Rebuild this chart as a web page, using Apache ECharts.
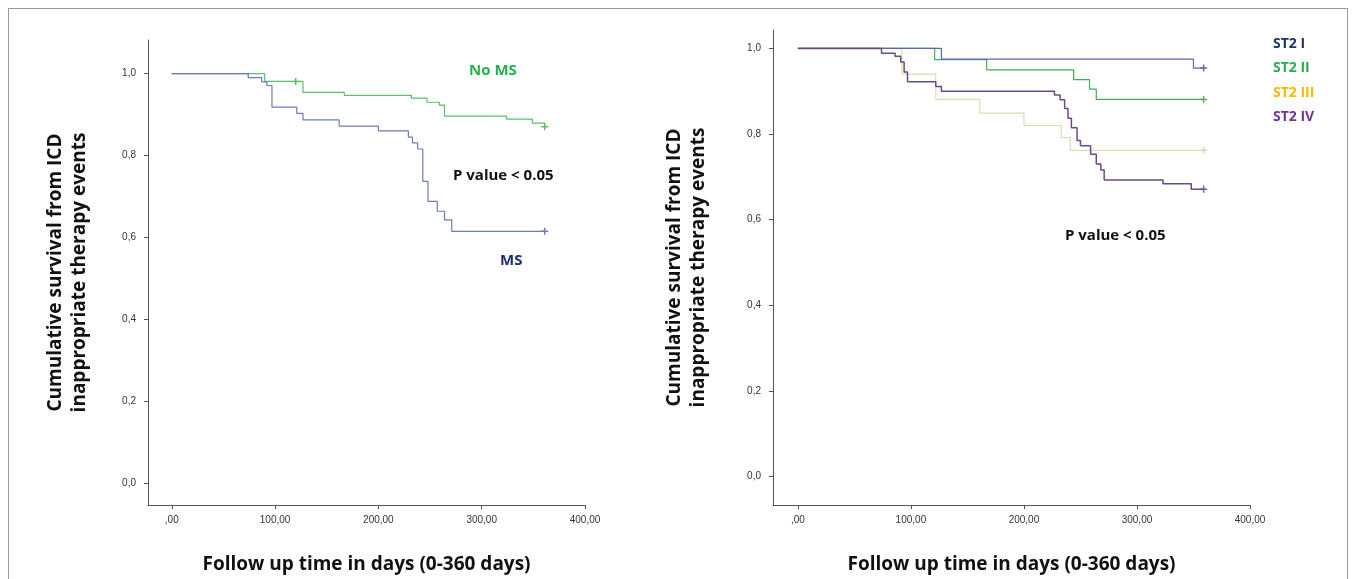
<!DOCTYPE html>
<html><head><meta charset="utf-8">
<script src="https://cdn.jsdelivr.net/npm/echarts@6/dist/echarts.min.js"></script>
<style>
html,body{margin:0;padding:0;background:#fff}
#frame{position:absolute;left:8px;top:8px;width:1340px;height:580px;border:1px solid #999;box-sizing:border-box}
#chart{position:absolute;left:0;top:0;width:1358px;height:579px}
</style></head><body>
<div id="frame"></div><div id="chart"></div>
<script>
// left panel: [day, survival]
var noMS = [[0,1],[90,0.981],[127,0.954],[167,0.947],[232,0.940],[247,0.930],[259,0.923],[264,0.896],[324,0.889],[349,0.879],[361,0.870]]
var ms = [[0,1],[74,0.99],[87,0.98],[92,0.971],[97,0.918],[121,0.903],[127,0.887],[162,0.872],[200,0.860],[229,0.845],[233,0.831],[238,0.816],[243,0.737],[248,0.688],[257,0.664],[264,0.643],[271,0.615],[361,0.615]]
var noMSCensor = [[120,0.981],[361,0.870]]
var msCensor = [[361,0.615]]
// right panel
var st2i = [[0,1],[127,0.975],[350,0.954],[359,0.954]]
var st2ii = [[0,1],[121,0.974],[167,0.950],[244,0.927],[258,0.905],[264,0.881],[359,0.881]]
var st2iii = [[0,1],[92,0.940],[122,0.881],[161,0.849],[200,0.820],[233,0.792],[241,0.762],[359,0.762]]
var st2iv = [[0,1],[74,0.989],[86,0.982],[91,0.968],[94,0.945],[97,0.922],[122,0.911],[127,0.900],[227,0.891],[232,0.880],[236,0.860],[239,0.837],[242,0.815],[247,0.785],[250,0.773],[259,0.753],[264,0.730],[268,0.716],[271,0.693],[323,0.684],[348,0.671],[359,0.671]]
var xTicks = [0, 100, 200, 300, 400]
var yTicks = [0, 0.2, 0.4, 0.6, 0.8, 1.0]

var chart = echarts.init(document.getElementById('chart'))
var fmtY = function (v) { return v.toFixed(1).replace('.', ',') }
var fmtX = function (v) { return v === 0 ? ',00' : v + ',00' }
function xAxis (idx, min) {
  return {
    type: 'value', gridIndex: idx, min: min, max: 400, splitLine: { show: false },
    axisLine: { onZero: false, lineStyle: { color: '#555' } },
    axisTick: { customValues: xTicks, length: 4, lineStyle: { color: '#555' } },
    axisLabel: { customValues: xTicks, formatter: fmtX, color: '#333', fontSize: 10, margin: 10, fontFamily: 'Liberation Sans' },
    name: 'Follow up time in days (0-360 days)', nameLocation: 'middle', nameGap: 50,
    nameTextStyle: { fontSize: 19, fontWeight: 'bold', color: '#111', fontFamily: 'Open Sans' }
  }
}
function yAxis (idx, min, max, gap) {
  return {
    type: 'value', gridIndex: idx, min: min, max: max, splitLine: { show: false },
    axisLine: { onZero: false, lineStyle: { color: '#555' } },
    axisTick: { customValues: yTicks, length: 4, lineStyle: { color: '#555' } },
    axisLabel: { customValues: yTicks, formatter: fmtY, color: '#333', fontSize: 10, margin: 12, fontFamily: 'Liberation Sans' },
    name: 'Cumulative survival from ICD\ninappropriate therapy events', nameLocation: 'middle', nameGap: gap,
    nameTextStyle: { fontSize: 19, fontWeight: 'bold', color: '#111', fontFamily: 'Open Sans', lineHeight: 24 }
  }
}
function km (data, color, i, w) {
  return { type: 'line', step: 'end', data: data, xAxisIndex: i, yAxisIndex: i, symbol: 'none',
    lineStyle: { color: color, width: w || 1.2 }, silent: true }
}
function cens (data, color, i) {
  return { type: 'scatter', data: data, xAxisIndex: i, yAxisIndex: i, symbol: 'path://M0,5L10,5M5,0L5,10',
    symbolSize: 7, itemStyle: { color: 'none', borderColor: color, borderWidth: 1.5 }, silent: true }
}
function txt (x, y, s, color, size) {
  return { type: 'text', left: x, top: y, style: { text: s, fill: color, font: 'bold ' + (size || 15) + 'px "Open Sans"' } }
}
chart.setOption({
  animation: false,
  grid: [
    { left: 148, top: 40, width: 437, height: 470 },
    { left: 773, top: 30, width: 477, height: 485 }
  ],
  xAxis: [xAxis(0, -23), xAxis(1, -22)],
  yAxis: [yAxis(0, -0.053, 1.082, 56), yAxis(1, -0.066, 1.043, 62)],
  series: [
    km(noMS, '#5cbf6a', 0), km(ms, '#6d7bb5', 0),
    cens(noMSCensor, '#3da84e', 0), cens(msCensor, '#4a5aa8', 0),
    km(st2iii, '#dcdcb0', 1), km(st2ii, '#3cb054', 1), km(st2i, '#5a68ae', 1), km(st2iv, '#6a4a8c', 1, 1.5),
    cens([[359, 0.954]], '#3a4a9a', 1), cens([[359, 0.881]], '#2f9a48', 1),
    cens([[359, 0.762]], '#cfcfa0', 1), cens([[359, 0.671]], '#5a3a7c', 1)
  ],
  graphic: [
    txt(469, 63, 'No MS', '#22b14c'),
    txt(453, 168, 'P value < 0.05', '#111'),
    txt(500, 253, 'MS', '#1f2f6e'),
    txt(1273, 37, 'ST2 I', '#1f2f6e', 14),
    txt(1273, 61, 'ST2 II', '#22b14c', 14),
    txt(1273, 86, 'ST2 III', '#f5b800', 14),
    txt(1273, 110, 'ST2 IV', '#7030a0', 14),
    txt(1065, 228, 'P value < 0.05', '#111')
  ]
})
</script></body></html>
